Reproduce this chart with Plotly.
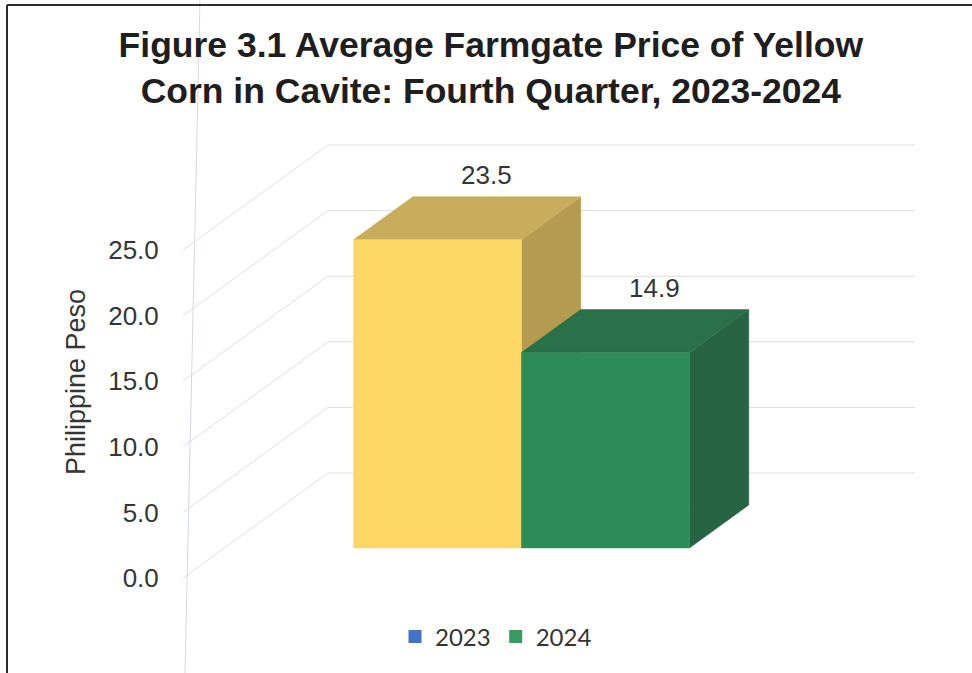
import plotly.graph_objects as go

# ---------------- data ----------------
years = ["2023", "2024"]
prices = [23.5, 14.9]
legend_colors = ["#4472C4", "#3A9B62"]
tick_values = [0, 5, 10, 15, 20, 25]
tick_labels = ["0.0", "5.0", "10.0", "15.0", "20.0", "25.0"]
title_text = ("<b>Figure 3.1 Average Farmgate Price of Yellow<br>"
              "Corn in Cavite: Fourth Quarter, 2023-2024</b>")
y_title = "Philippine Peso"

# ---------------- styling / geometry (oblique 3D look) ----------------
W, H = 972, 673
ML, MR, MT, MB = 170, 40, 130, 73
PX_X0, PX_PER_X = 396.0, 168.0      # pixel of x=0, pixels per category
PX_Y0, PX_PER_Y = 578.0, 13.12      # pixel of y=0, pixels per unit
x_range = [(ML - PX_X0) / PX_PER_X, (W - MR - PX_X0) / PX_PER_X]
y_range = [(PX_Y0 - (H - MB)) / PX_PER_Y, (PX_Y0 - MT) / PX_PER_Y]

DEPTH_X = 145.0 / PX_PER_X           # full floor depth in x units
DEPTH_Y = 105.0 / PX_PER_Y           # full floor depth in y units
Z_FRONT, Z_BACK = 0.286, 0.695       # bar front / back depth fraction
FLOOR_X0, FLOOR_X1 = -1.268, 2.226
BAR_W = 1.0

front_cols = ["#FDD766", "#2E8C58"]
top_cols = ["#C8AE5C", "#2A7049"]
side_cols = ["#B49B4F", "#276443"]
grid_col = "#DEDEDE"
text_col = "#353535"
FONT = "Liberation Sans, Arial, sans-serif"

fig = go.Figure()

# back wall grid lines and left side-wall lines
for v in tick_values:
    fig.add_trace(go.Scatter(
        x=[FLOOR_X0, FLOOR_X0 + DEPTH_X, FLOOR_X1 + DEPTH_X],
        y=[v, v + DEPTH_Y, v + DEPTH_Y],
        mode="lines", line=dict(color=grid_col, width=1),
        showlegend=False, hoverinfo="skip"))

oxf, oyf = DEPTH_X * Z_FRONT, DEPTH_Y * Z_FRONT
oxb, oyb = DEPTH_X * Z_BACK, DEPTH_Y * Z_BACK


def poly(xs, ys, col):
    fig.add_trace(go.Scatter(
        x=xs + [xs[0]], y=ys + [ys[0]], mode="lines", fill="toself",
        fillcolor=col, line=dict(color=col, width=0.5),
        showlegend=False, hoverinfo="skip"))


for i, (yr, v) in enumerate(zip(years, prices)):
    xl, xr = i - BAR_W / 2, i + BAR_W / 2
    # side face
    poly([xr + oxf, xr + oxb, xr + oxb, xr + oxf],
         [oyf, oyb, v + oyb, v + oyf], side_cols[i])
    # top face
    poly([xl + oxf, xr + oxf, xr + oxb, xl + oxb],
         [v + oyf, v + oyf, v + oyb, v + oyb], top_cols[i])
    # front face
    poly([xl + oxf, xr + oxf, xr + oxf, xl + oxf],
         [oyf, oyf, v + oyf, v + oyf], front_cols[i])
    # value label
    fig.add_annotation(x=i + oxb, y=v + oyb, xref="x", yref="y",
                       text=f"{v:.1f}", showarrow=False,
                       xanchor="center", yanchor="bottom",
                       xshift=-10, yshift=5,
                       font=dict(family=FONT, size=26, color=text_col))

# legend entries
for yr, c in zip(years, legend_colors):
    fig.add_trace(go.Scatter(x=[None], y=[None], mode="markers", name=yr,
                             marker=dict(symbol="square", size=13, color=c)))

# y axis title
fig.add_annotation(x=(76 - ML) / (W - ML - MR), y=((H - MB) - 382) / (H - MT - MB),
                   xref="paper", yref="paper", text=y_title, textangle=-90,
                   showarrow=False, xanchor="center", yanchor="middle",
                   font=dict(family=FONT, size=27, color=text_col))

pw, ph = W - ML - MR, H - MT - MB


def px_x(p):
    return (p - ML) / pw


def px_y(p):
    return ((H - MB) - p) / ph


# scanned page border and faint scan line
fig.add_shape(type="line", xref="paper", yref="paper",
              x0=px_x(7), x1=px_x(7), y0=px_y(5), y1=px_y(H),
              line=dict(color="#2E2E2E", width=2))
fig.add_shape(type="line", xref="paper", yref="paper",
              x0=px_x(7), x1=px_x(W), y0=px_y(5), y1=px_y(5),
              line=dict(color="#2E2E2E", width=2))
fig.add_shape(type="line", xref="paper", yref="paper",
              x0=px_x(200), x1=px_x(185), y0=px_y(0), y1=px_y(H),
              line=dict(color="#D3D8E6", width=1), layer="below")

fig.update_layout(
    width=W, height=H,
    margin=dict(l=ML, r=MR, t=MT, b=MB),
    paper_bgcolor="white", plot_bgcolor="white",
    title=dict(text=title_text, x=0.505, xref="container", xanchor="center",
               y=1 - 57 / H, yref="container", yanchor="middle",
               font=dict(family=FONT, size=35.5, color="#1E1E1E")),
    xaxis=dict(range=x_range, visible=False, fixedrange=True),
    yaxis=dict(range=y_range, tickvals=tick_values, ticktext=tick_labels,
               showgrid=False, zeroline=False, showline=False,
               ticks="outside", ticklen=5, tickcolor="rgba(0,0,0,0)",
               tickfont=dict(family=FONT, size=26, color=text_col),
               fixedrange=True),
    legend=dict(orientation="h", x=px_x(496), xanchor="center",
                y=px_y(637), yanchor="middle", itemwidth=30,
                font=dict(family="Lato, sans-serif", size=24, color=text_col)),
    showlegend=True,
)

fig.write_html("out.html")
